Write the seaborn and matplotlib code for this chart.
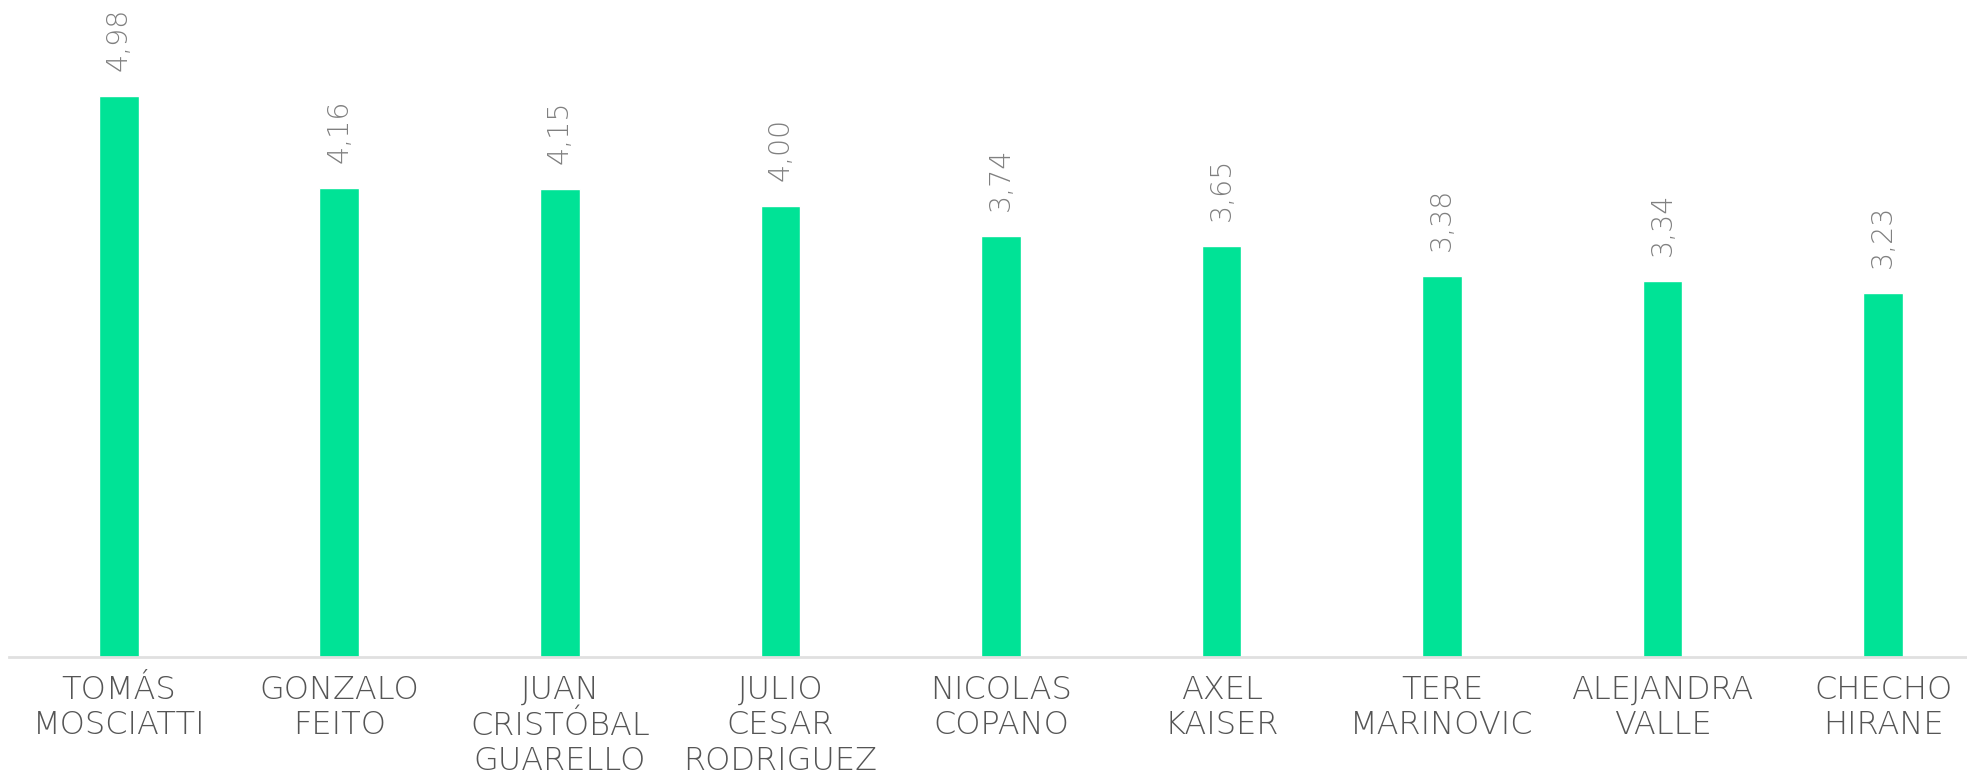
import matplotlib
matplotlib.use("Agg")
import matplotlib.pyplot as plt
import seaborn as sns
import pandas as pd

# Datos
nombres = [
    "TOMÁS\nMOSCIATTI",
    "GONZALO\nFEITO",
    "JUAN\nCRISTÓBAL\nGUARELLO",
    "JULIO\nCESAR\nRODRIGUEZ",
    "NICOLAS\nCOPANO",
    "AXEL\nKAISER",
    "TERE\nMARINOVIC",
    "ALEJANDRA\nVALLE",
    "CHECHO\nHIRANE",
]
notas = [4.98, 4.16, 4.15, 4.00, 3.74, 3.65, 3.38, 3.34, 3.23]

df = pd.DataFrame({"Nombre": nombres, "Nota": notas})

sns.set_style("white")
plt.rcParams["font.family"] = ["DejaVu Sans"]

fig = plt.figure(figsize=(19.67, 7.75), dpi=100)
ax = fig.add_axes([8.5 / 1967, 118 / 775, 1 - 8.5 / 1967, 1 - 118 / 775])

sns.barplot(data=df, x="Nombre", y="Nota", color="#00E396", saturation=1,
            width=0.18, ax=ax)

ax.set_xlim(-0.5, 8.38)
ax.set_ylim(0, 5.83)

# Etiquetas de valores
for cont in ax.containers:
    ax.bar_label(cont, labels=[f"{v:.2f}".replace(".", ",") for v in notas],
                 rotation=90, padding=18, fontsize=20.5, color="#808080",
                 fontweight="light")

# Estética
ax.set_xlabel("")
ax.set_ylabel("")
ax.set_yticks([])
for s in ["top", "right", "left"]:
    ax.spines[s].set_visible(False)
ax.spines["bottom"].set_color("#e0e0e0")
ax.spines["bottom"].set_linewidth(2)
ax.tick_params(axis="x", length=0, pad=13)
for lbl in ax.get_xticklabels():
    lbl.set_fontsize(23)
    lbl.set_color("#555555")
    lbl.set_linespacing(1.22)
    lbl.set_fontweight("light")

plt.savefig("out.png", dpi=100)
plt.close()
